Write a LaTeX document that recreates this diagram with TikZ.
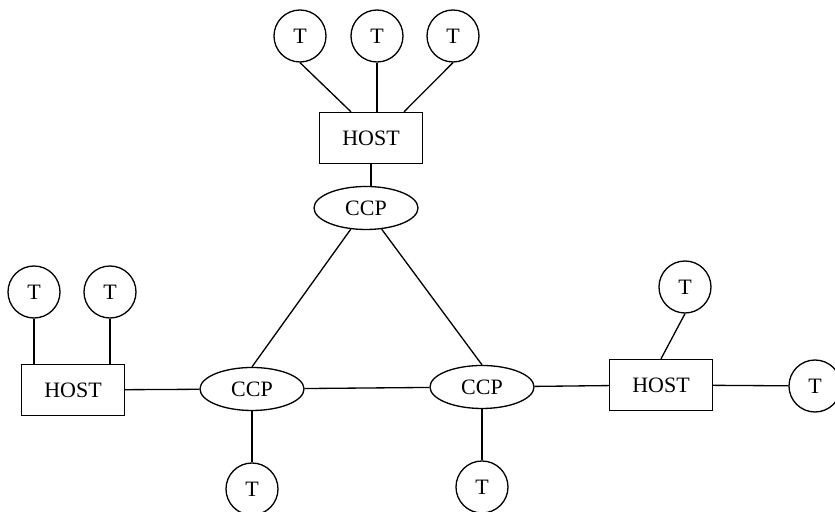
\documentclass[tikz,border=0pt]{standalone}
\usepackage{fontspec}
\setmainfont{Liberation Serif}
\usetikzlibrary{shapes.geometric}
\tikzset{
	term/.style={circle,draw,inner sep=0pt,minimum size=10.4mm,font=\fontsize{12.5}{14}\selectfont},
	host/.style={rectangle,draw,inner sep=0pt,minimum width=20.6mm,minimum height=10.2mm,font=\fontsize{12.5}{14}\selectfont},
	ccp/.style={ellipse,draw,inner sep=0pt,minimum width=20.8mm,minimum height=8.6mm,font=\fontsize{12.5}{14}\selectfont}
}
\begin{document}
\begin{tikzpicture}[x=0.2mm,y=0.2mm,line width=0.75pt]
	\useasboundingbox (0,0) rectangle (835,512);
	% top site
	\node [term] (ta) at (300,476) {T};
	\node [term] (tb) at (377,476) {T};
	\node [term] (tc) at (453,476) {T};
	\node [host] (hostt) at (371,374) {HOST};
	\node [ccp] (ccpt) at (366,304) {CCP};

	% left site
	\node [term] (td) at (34,220) {T};
	\node [term] (te) at (110,220) {T};
	\node [host] (hostl) at (73,122) {HOST};
	\node [ccp] (ccpl) at (252,123) {CCP};
	\node [term] (tf) at (252,23) {T};

	% right site
	\node [ccp] (ccpr) at (482,125) {CCP};
	\node [term] (tg) at (482,25) {T};
	\node [host] (hostr) at (661,127) {HOST};
	\node [term] (th) at (685,225) {T};
	\node [term] (ti) at (815,126) {T};

	\draw (ta.south) -- ([xshift=-4mm]hostt.north);
	\draw (tb.south) -- (tb.south |- hostt.north);
	\draw (tc.south) -- ([xshift=6.6mm]hostt.north);
	\draw (hostt) -- (hostt |- ccpt.north);
	\draw (ccpt) -- (ccpl.north);
	\draw (ccpt) -- (ccpr.north);

	\draw (td) -- (td |- hostl.north);
	\draw (te) -- (te |- hostl.north);
	\draw (hostl) -- (ccpl);
	\draw (ccpl) -- (tf);
	\draw (ccpl) -- (ccpr);

	\draw (ccpr) -- (tg);
	\draw (ccpr) -- (hostr);
	\draw (th.south) -- (hostr.north);
	\draw (hostr) -- (ti);
\end{tikzpicture}
\end{document}
